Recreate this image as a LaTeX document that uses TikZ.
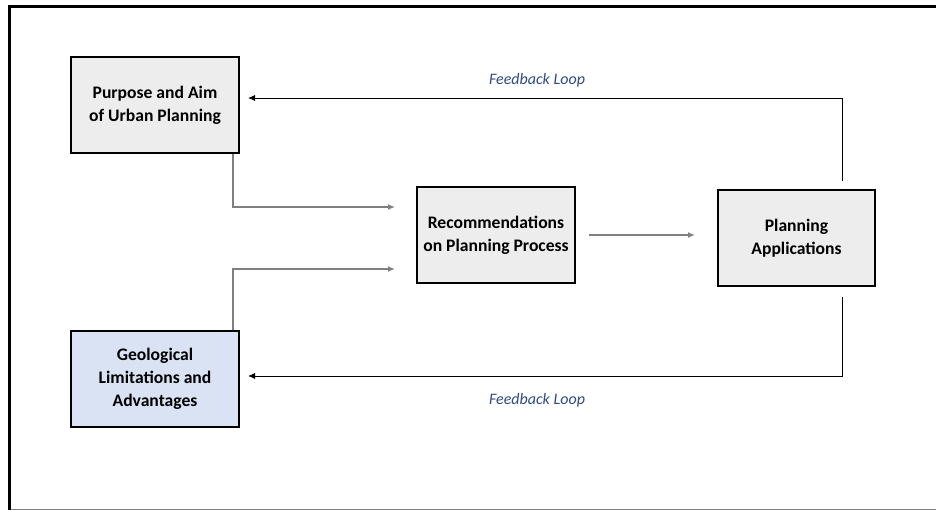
\documentclass[tikz,border=0pt]{standalone}
\usepackage{fontspec}
\setmainfont{Carlito}
\usetikzlibrary{arrows.meta,calc}
\definecolor{boxgray}{HTML}{EDEDED}
\definecolor{boxblue}{HTML}{DAE3F3}
\definecolor{linkgray}{HTML}{808080}
\definecolor{loopblue}{HTML}{2F4A84}
\begin{document}
\begin{tikzpicture}[x=1pt,y=-1pt,
  stage/.style={draw=black, line width=1.4pt, fill=boxgray, align=center,
    inner sep=0pt, font=\fontsize{17.6}{22.8}\selectfont\bfseries},
  feed/.style={draw=black, line width=0.9pt, -{Latex[length=7pt,width=6pt]}},
  link/.style={draw=linkgray, line width=1.3pt, -{Latex[length=7pt,width=6pt]}},
  looplabel/.style={font=\fontsize{16}{18}\selectfont\itshape, text=loopblue}]
\useasboundingbox (0,0) rectangle (936,510);
% outer frame
\draw[line width=3pt] (9.5,510) -- (9.5,6.5) -- (936,6.5);
\draw[linkgray, line width=1pt] (11,509) -- (936,509);

% stages
\node[stage, minimum width=168pt, minimum height=96pt] (aim) at (155,105)
  {Purpose and Aim\\of Urban Planning};
\node[stage, fill=boxblue, minimum width=168pt, minimum height=96pt] (geo) at (155,379)
  {Geological\\Limitations and\\Advantages};
\node[stage, minimum width=158pt, minimum height=96pt] (rec) at (496,235)
  {Recommendations\\on Planning Process};
\node[stage, minimum width=157pt, minimum height=96pt] (app) at (796.5,238)
  {Planning\\Applications};

% inputs into the recommendations
\coordinate (in1) at (395,207);
\coordinate (in2) at (395,269);
\draw[link] (aim.south -| 233,0) |- (in1);
\draw[link] (geo.north -| 233,0) |- (in2);
\coordinate (out) at (695,235);
\draw[link] ($(rec.east)+(13,0)$) -- (out);

% feedback loops
\coordinate (fbtop) at (842,181);
\coordinate (fbaim) at (248,98);
\draw[feed] (fbtop) |- (fbaim);
\coordinate (fbbot) at (842,297);
\coordinate (fbgeo) at (248,376);
\draw[feed] (fbbot) |- (fbgeo);

\node[looplabel] (lab1) at (537,80) {Feedback Loop};
\node[looplabel] (lab2) at (537,400) {Feedback Loop};
\end{tikzpicture}
\end{document}
